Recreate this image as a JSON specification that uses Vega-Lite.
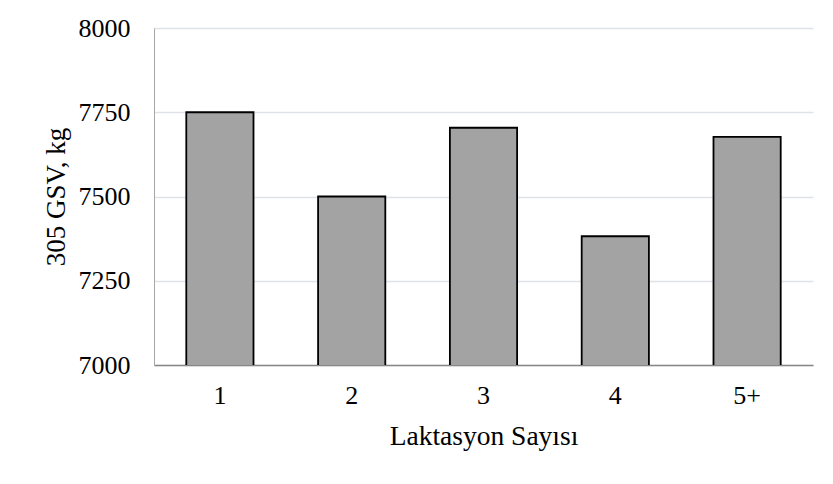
{
  "$schema": "https://vega.github.io/schema/vega-lite/v6.json",
  "autosize": "none",
  "width": 659,
  "height": 337,
  "padding": {"left": 154, "top": 28, "right": 20, "bottom": 119},
  "background": "white",
  "data": {
    "values": [
      {"lak": "1", "gsv": 7750},
      {"lak": "2", "gsv": 7500},
      {"lak": "3", "gsv": 7704},
      {"lak": "4", "gsv": 7382},
      {"lak": "5+", "gsv": 7677}
    ]
  },
  "mark": {"type": "bar", "fill": "#a3a3a3", "stroke": "#000000", "strokeWidth": 1.8, "clip": true},
  "encoding": {
    "x": {
      "field": "lak", "type": "nominal", "sort": null,
      "scale": {"paddingInner": 0.49, "paddingOuter": 0.245},
      "axis": {
        "title": "Laktasyon Sayısı", "labelAngle": 0, "ticks": false,
        "domainColor": "#888888", "domainWidth": 1.5,
        "labelFont": "Liberation Serif, Times New Roman, serif", "labelFontSize": 26, "labelColor": "#000000", "labelPadding": 17,
        "titleFont": "Liberation Serif, Times New Roman, serif", "titleFontSize": 27.5, "titleFontWeight": "normal", "titleColor": "#000000", "titlePadding": 14
      }
    },
    "y": {
      "field": "gsv", "type": "quantitative",
      "scale": {"domain": [7000, 8000], "zero": false},
      "axis": {
        "title": "305 GSV, kg", "values": [7000, 7250, 7500, 7750, 8000], "format": "d",
        "ticks": false, "domainColor": "#a6a6a6", "domainWidth": 1,
        "gridColor": "#dfe3e8", "gridWidth": 1.5,
        "labelFont": "Liberation Serif, Times New Roman, serif", "labelFontSize": 26, "labelColor": "#000000", "labelPadding": 24,
        "titleFont": "Liberation Serif, Times New Roman, serif", "titleFontSize": 27, "titleFontWeight": "normal", "titleColor": "#000000", "titlePadding": 8
      }
    }
  },
  "config": {"view": {"stroke": null}}
}
